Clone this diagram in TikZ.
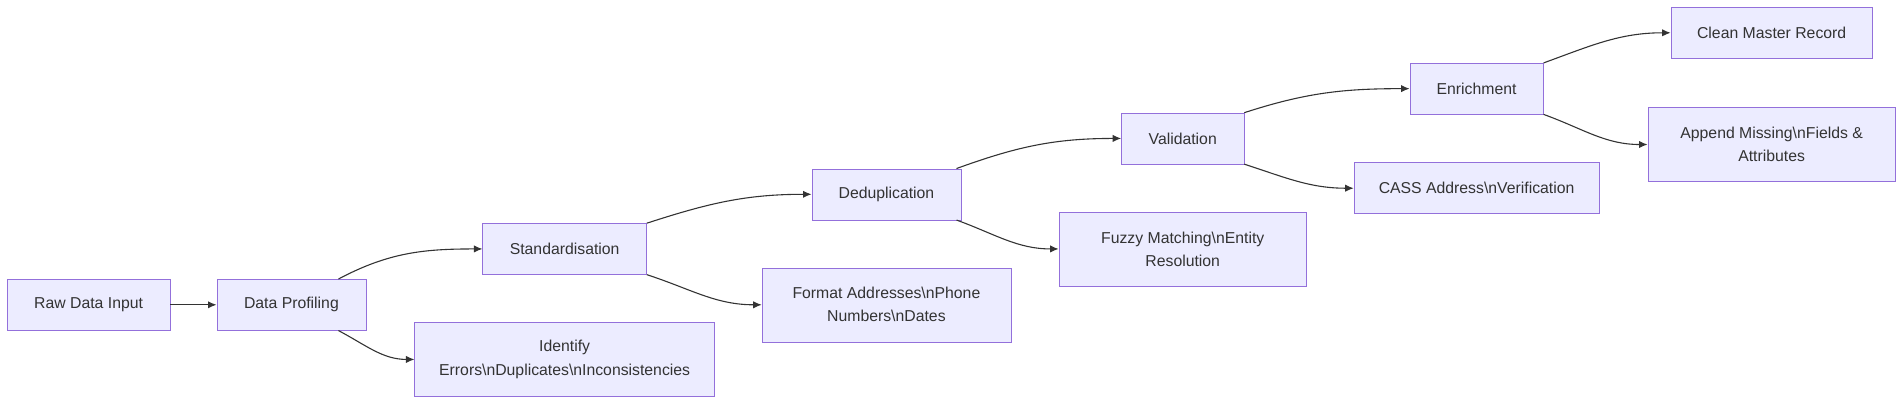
\documentclass[tikz,border=0pt]{standalone}
\usepackage{fontspec}
\setmainfont{Liberation Sans}
\usetikzlibrary{arrows.meta, positioning}
\definecolor{boxfill}{HTML}{ECECFF}
\definecolor{boxline}{HTML}{9370DB}
\definecolor{ink}{HTML}{333333}
\tikzset{
  stage/.style={draw=boxline, fill=boxfill, text=ink, rectangle, inner sep=0pt, align=center,
    font=\fontsize{13}{19}\selectfont},
  edge/.style={draw=ink, line width=0.9pt, -{Latex[length=7pt,width=6pt]}}
}
\newcommand{\nl}{\textbackslash n}
\begin{document}
\begin{tikzpicture}[x=1pt, y=-1pt]
  \useasboundingbox (0,0) rectangle (1568,333);
  % Stages
  \node[stage, minimum width=134pt, minimum height=42pt] (raw) at (73,251) {Raw Data Input};
  \node[stage, minimum width=123pt, minimum height=42pt] (prof) at (240,251) {Data Profiling};
  \node[stage, minimum width=135pt, minimum height=42pt] (std) at (465,205) {Standardisation};
  \node[stage, minimum width=247pt, minimum height=61pt] (ident) at (465,296) {Identify\\Errors\nl Duplicates\nl Inconsistencies};
  \node[stage, minimum width=123pt, minimum height=42pt] (dedup) at (730,160) {Deduplication};
  \node[stage, minimum width=205pt, minimum height=61pt] (fmt) at (730,251) {Format Addresses\nl Phone\\Numbers\nl Dates};
  \node[stage, minimum width=101pt, minimum height=42pt] (valid) at (974,114) {Validation};
  \node[stage, minimum width=204pt, minimum height=61pt] (fuzzy) at (974,205) {Fuzzy Matching\nl Entity\\Resolution};
  \node[stage, minimum width=110pt, minimum height=42pt] (enrich) at (1216,73) {Enrichment};
  \node[stage, minimum width=202pt, minimum height=42pt] (cass) at (1216,155) {CASS Address\nl Verification};
  \node[stage, minimum width=166pt, minimum height=42pt] (clean) at (1459,27) {Clean Master Record};
  \node[stage, minimum width=204pt, minimum height=61pt] (append) at (1459,119) {Append Missing\nl Fields \&\\Attributes};
  % Connectors
  \draw[edge] (raw) -- (prof);
  \draw[edge] ([xshift=-23pt]prof.north east) to[out=28, in=180] (std.west);
  \draw[edge] ([xshift=-23pt]prof.south east) to[out=-28, in=180] (ident.west);
  \draw[edge] (std.north east) to[out=18, in=180] (dedup.west);
  \draw[edge] (std.south east) to[out=-18, in=180] (fmt.west);
  \draw[edge] ([xshift=-4pt]dedup.north east) to[out=20, in=180] (valid.west);
  \draw[edge] ([xshift=-4pt]dedup.south east) to[out=-20, in=180] (fuzzy.west);
  \draw[edge] (valid.north east) to[out=18, in=180] (enrich.west);
  \draw[edge] (valid.south east) to[out=-18, in=180] (cass.west);
  \draw[edge] (enrich.north east) to[out=20, in=180] (clean.west);
  \draw[edge] (enrich.south east) to[out=-20, in=180] (append.west);
\end{tikzpicture}
\end{document}
